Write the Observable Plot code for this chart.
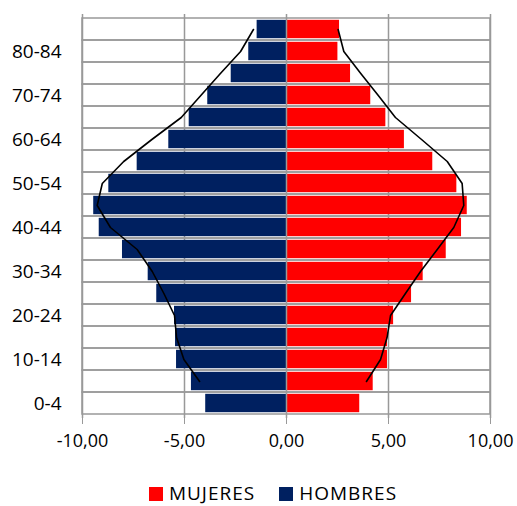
<!DOCTYPE html>
<html>
<head>
<meta charset="utf-8">
<script src="https://cdn.jsdelivr.net/npm/d3@7"></script>
<script src="https://cdn.jsdelivr.net/npm/@observablehq/plot@0.6"></script>
<style>
  html, body { margin: 0; padding: 0; background: #fff; }
  #chart { position: relative; width: 517px; height: 506px; }
  .legend { display: flex; justify-content: center; align-items: center; gap: 24px;
    margin-left: 29px; margin-top: 14px; font-family: "Open Sans", sans-serif; font-size: 19px;
    letter-spacing: 1px; color: #000; line-height: 1; }
  .legend span.item { display: flex; align-items: center; gap: 6px; }
  .legend span.sw { display: inline-block; width: 14px; height: 14px; }
</style>
</head>
<body>
<div id="chart"></div>
<script>
// Age groups (bottom to top)
const ages = ["0-4","5-9","10-14","15-19","20-24","25-29","30-34","35-39","40-44","45-49",
              "50-54","55-59","60-64","65-69","70-74","75-79","80-84","85+"];
// Bars: percentage of population
const hombres = [-3.96,-4.66,-5.39,-5.44,-5.49,-6.36,-6.78,-8.04,-9.18,-9.45,
                 -8.71,-7.32,-5.77,-4.77,-3.86,-2.71,-1.85,-1.44];
const mujeres = [3.59,4.25,4.95,4.95,5.25,6.13,6.70,7.83,8.58,8.86,
                 8.35,7.17,5.78,4.87,4.13,3.14,2.52,2.60];
// Comparison profile (black lines), from 5-9 upward
const lineAges = ages.slice(1);
const hombresLinea = [-4.26,-5.03,-5.39,-5.49,-6.01,-6.58,-7.32,-8.63,-9.28,
                      -9.03,-7.98,-6.60,-5.16,-4.20,-3.24,-2.25,-1.62];
const mujeresLinea = [3.92,4.61,4.93,5.10,5.83,6.57,7.39,8.20,8.69,
                      8.61,7.88,6.62,5.34,4.50,3.64,2.81,2.53];
const xTicks = [-10, -5, 0, 5, 10];
const yLabels = ["0-4","10-14","20-24","30-34","40-44","50-54","60-64","70-74","80-84"];
const series = ["MUJERES", "HOMBRES"];
const colors = ["#FF0000", "#002060"];

const barsH = ages.map((a, i) => ({age: a, v: hombres[i]}));
const barsM = ages.map((a, i) => ({age: a, v: mujeres[i]}));
const lineH = lineAges.map((a, i) => ({age: a, v: hombresLinea[i]}));
const lineM = lineAges.map((a, i) => ({age: a, v: mujeresLinea[i]}));

const grid = "#999";
const fmt = d => d.toFixed(2).replace(".", ",");

const plot = Plot.plot({
  width: 517,
  height: 470,
  marginLeft: 82,
  marginRight: 27,
  marginTop: 14,
  marginBottom: 52,
  style: {fontFamily: "Open Sans, sans-serif", fontSize: "18px", color: "#000", background: "#fff"},
  x: {domain: [-10, 10], ticks: xTicks, tickFormat: fmt, tickSize: 6, tickPadding: 10, label: null},
  y: {domain: ages.slice().reverse(), padding: 0, tickSize: 0, tickPadding: 21, label: null,
      tickFormat: d => yLabels.includes(d) ? d : ""},
  marks: [
    Plot.barX(ages, {x1: -10, x2: 10, y: d => d, fill: "none", stroke: grid, strokeWidth: 1.5}),
    Plot.ruleX(xTicks.filter(d => d !== 0), {stroke: grid, strokeWidth: 1.5}),
    Plot.barX(barsH, {x1: 0, x2: "v", y: "age", fill: colors[1], insetTop: 1.8, insetBottom: 1.8}),
    Plot.barX(barsM, {x1: 0, x2: "v", y: "age", fill: colors[0], insetTop: 1.8, insetBottom: 1.8}),
    Plot.ruleX([0], {stroke: grid, strokeWidth: 1.5}),
    Plot.line(lineH, {x: "v", y: "age", stroke: "#000", strokeWidth: 1.6}),
    Plot.line(lineM, {x: "v", y: "age", stroke: "#000", strokeWidth: 1.6})
  ]
});
// tick marks grey
plot.querySelectorAll('[aria-label="x-axis tick"] path, [aria-label="x-axis"] line').forEach(e => e.setAttribute("stroke", grid));
// slightly larger age labels
plot.querySelectorAll('[aria-label="y-axis tick label"], [aria-label="y-axis"]').forEach(e => e.setAttribute("font-size", "19"));
const chart = document.getElementById("chart");
chart.appendChild(plot);

const legend = document.createElement("div");
legend.className = "legend";
series.forEach((s, i) => {
  const item = document.createElement("span");
  item.className = "item";
  const sw = document.createElement("span");
  sw.className = "sw";
  sw.style.background = colors[i];
  const t = document.createElement("span");
  t.textContent = s;
  item.appendChild(sw);
  item.appendChild(t);
  legend.appendChild(item);
});
chart.appendChild(legend);
</script>
</body>
</html>
